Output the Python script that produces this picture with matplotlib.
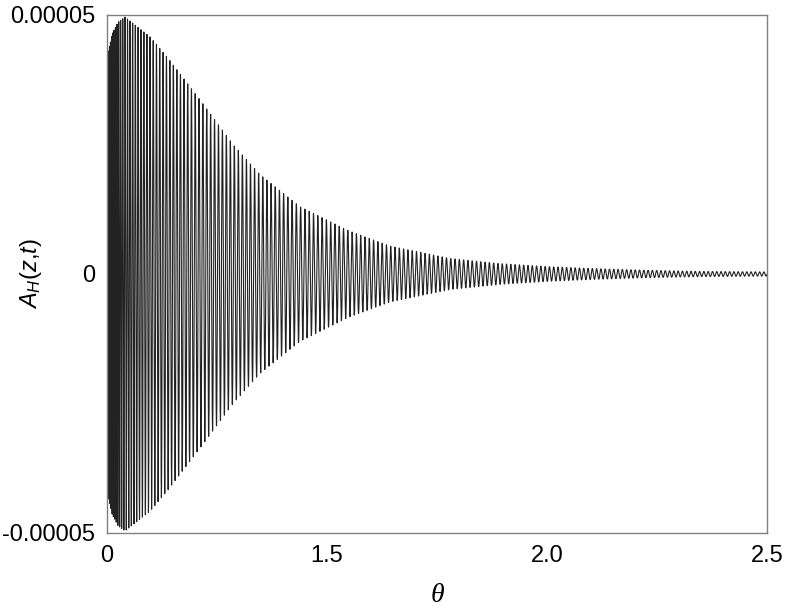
import numpy as np
import matplotlib
matplotlib.use('Agg')
import matplotlib.pyplot as plt

# envelope of A_H (x in axis units 0..3, amplitude in 1e-5)
env_x = [0.0, 0.023, 0.05, 0.082, 0.195, 0.273, 0.423, 0.573, 0.695, 0.877,
         1.095, 1.286, 1.559, 1.786, 2.014, 2.241, 2.468, 2.695, 3.0]
env_amp = [4.15, 4.63, 4.86, 4.96, 4.58, 4.19, 3.36, 2.5, 1.92, 1.30,
           0.84, 0.54, 0.30, 0.20, 0.14, 0.10, 0.07, 0.05, 0.04]

# local oscillation period (axis units), read from the stripe spacing
per_x = [0.0, 0.03, 0.082, 0.2, 0.42, 0.88, 3.0]
per_len = [0.003, 0.006, 0.011, 0.0145, 0.0175, 0.0195, 0.0195]

tick_pos = [0, 1, 2, 3]
tick_lab = ['0', '1.5', '2.0', '2.5']
ytick_pos = [-5e-5, 0, 5e-5]
ytick_lab = ['-0.00005', '0', '0.00005']

plt.rcParams['mathtext.fontset'] = 'custom'
plt.rcParams['mathtext.rm'] = 'Liberation Sans'
plt.rcParams['mathtext.it'] = 'Liberation Sans:italic'

x = np.linspace(0, 3, 60000)
env = np.interp(x, env_x, env_amp) * 1e-5
per = np.interp(x, per_x, per_len)
phase = 2 * np.pi * np.cumsum(np.gradient(x) / per)
y = env * np.sin(phase)

fig = plt.figure(figsize=(7.85, 6.09), dpi=100)
ax = fig.add_axes([0.1363, 0.1248, 0.8407, 0.8506])
ax.plot(x, y, color='#222222', lw=0.8)
ax.set_xlim(0, 3)
ax.set_ylim(-5e-5, 5e-5)
ax.set_xticks(tick_pos)
ax.set_xticklabels(tick_lab)
ax.set_yticks(ytick_pos)
ax.set_yticklabels(ytick_lab)
ax.tick_params(length=0, pad=8.5, labelsize=17)
for lab in ax.get_xticklabels() + ax.get_yticklabels():
    lab.set_family('Liberation Sans')
for s in ax.spines.values():
    s.set_color('#808080')
    s.set_linewidth(1.0)

ax.set_ylabel(r'$A_H(z{,}t)$', fontsize=17, labelpad=-30)
ax.set_xlabel('θ', family='Liberation Serif', style='italic', fontsize=20, labelpad=12)

plt.savefig('out.png', dpi=100)
